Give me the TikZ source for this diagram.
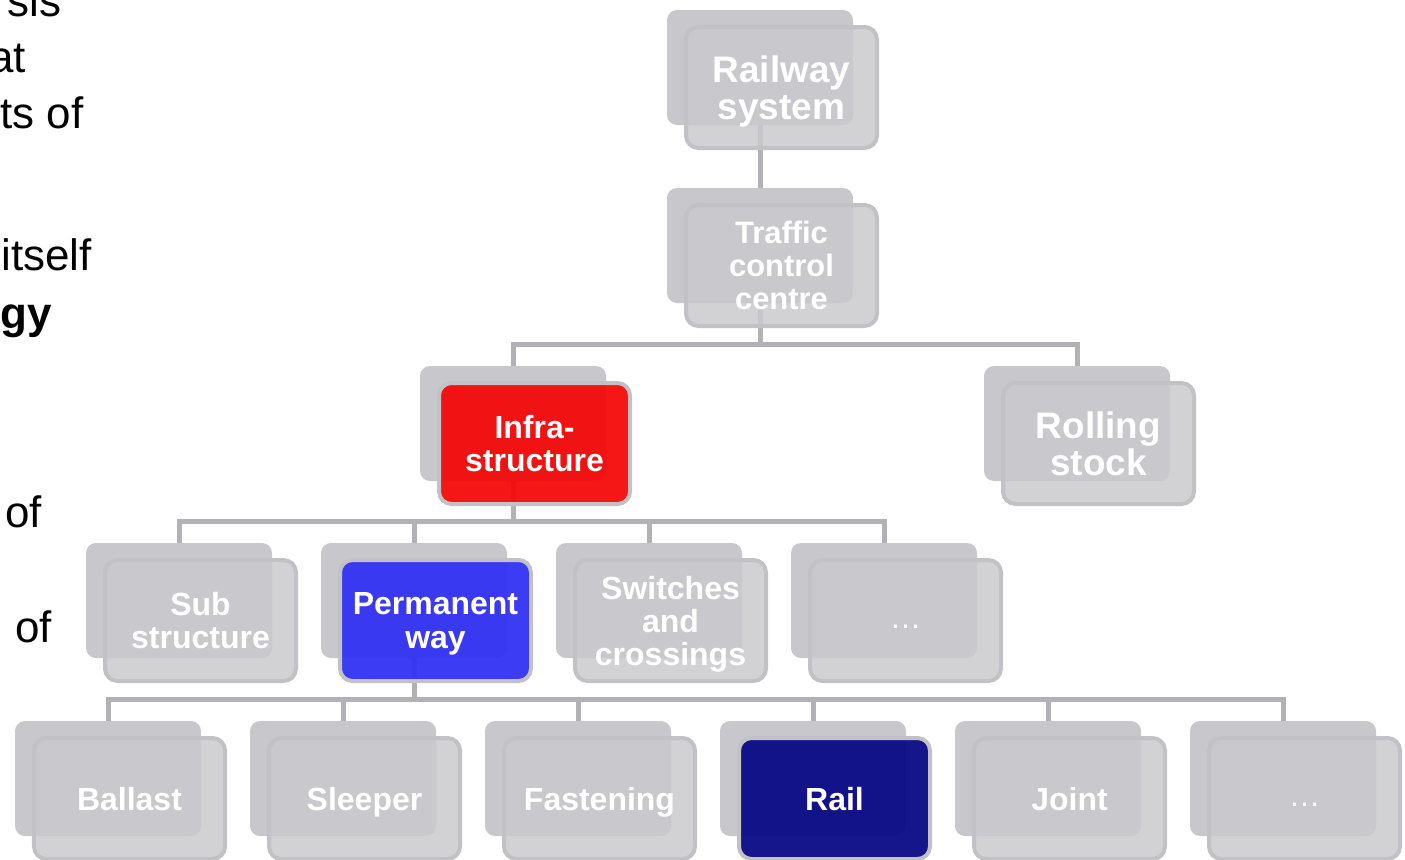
\documentclass[tikz,border=0pt]{standalone}
\usepackage{fontspec}
\setmainfont{Liberation Sans}
\usetikzlibrary{backgrounds}

\definecolor{backgray}{RGB}{200,200,204}
\definecolor{cardgray}{RGB}{202,202,206}
\definecolor{cardline}{RGB}{194,194,198}
\definecolor{linkgray}{RGB}{178,178,182}
\definecolor{infrared}{RGB}{244,10,10}
\definecolor{permblue}{RGB}{50,50,244}
\definecolor{raildark}{RGB}{10,10,134}

\begin{document}
\begin{tikzpicture} [node distance=4.7cm,
	back/.style={rectangle, rounded corners=0.2cm, fill=backgray, minimum width=3.72cm, minimum height=2.3cm, inner sep=0pt},
	card/.style={rectangle, rounded corners=0.25cm, draw=cardline, line width=0.08cm, fill=cardgray, fill opacity=0.85, text opacity=1, text=white, minimum width=3.82cm, minimum height=2.42cm, inner sep=0pt, text depth=0pt, align=center, xshift=0.43cm, yshift=-0.4cm, font=\bfseries\fontsize{18.2}{18.8}\selectfont},
	bigcard/.style={card, font=\bfseries\fontsize{21}{21}\selectfont},
	hotcard/.style={card, fill opacity=0.95},
	dotcard/.style={card, text height=0.3cm, font=\fontsize{18.2}{18.8}\selectfont},
	link/.style={draw=linkgray, line width=0.1cm},
	prose/.style={anchor=base east, inner sep=0pt, font=\fontsize{25}{30}\selectfont}]

	\useasboundingbox (0,0) rectangle (28.1,-17.2);
	\clip (0,0) rectangle (28.1,-17.2);

	% slide text cut at the left
	\node [prose] (txt_1) at (1.24,-0.32) {sis};
	\node [prose] (txt_2) at (0.52,-1.44) {at};
	\node [prose] (txt_3) at (1.68,-2.56) {ts of};
	\node [prose] (txt_4) at (1.84,-5.4) {itself};
	\node [prose, font=\bfseries\fontsize{25}{30}\selectfont] (txt_5) at (1.04,-6.56) {gy};
	\node [prose] (txt_6) at (0.84,-10.54) {of};
	\node [prose] (txt_7) at (1.04,-12.84) {of};

	% top of the tree
	\node [back] (railway_b) at (15.2,-1.35) {};
	\node [bigcard] (railway) at (railway_b) {Railway\\system};
	\node [back, below of=railway_b, node distance=3.56cm] (traffic_b) {};
	\node [card, font=\bfseries\fontsize{17.6}{18.8}\selectfont] (traffic) at (traffic_b) {Traffic\\control\\centre};

	% second level
	\node [back] (infra_b) at (10.26,-8.47) {};
	\node [hotcard, fill=infrared] (infra) at (infra_b) {Infra-\\structure};
	\node [back, right of=infra_b, node distance=11.28cm] (rolling_b) {};
	\node [bigcard] (rolling) at (rolling_b) {Rolling\\stock};

	% third level
	\node [back] (sub_b) at (3.58,-12.01) {};
	\node [card] (sub) at (sub_b) {Sub\\structure};
	\node [back, right of=sub_b] (perm_b) {};
	\node [hotcard, fill=permblue] (perm) at (perm_b) {Permanent\\way};
	\node [back, right of=perm_b] (switches_b) {};
	\node [card] (switches) at (switches_b) {Switches\\and\\crossings};
	\node [back, right of=switches_b] (more_1_b) {};
	\node [dotcard] (more_1) at (more_1_b) {…};

	% fourth level
	\node [back] (ballast_b) at (2.16,-15.57) {};
	\node [card] (ballast) at (ballast_b) {Ballast};
	\node [back, right of=ballast_b] (sleeper_b) {};
	\node [card] (sleeper) at (sleeper_b) {Sleeper};
	\node [back, right of=sleeper_b] (fastening_b) {};
	\node [card] (fastening) at (fastening_b) {Fastening};
	\node [back, right of=fastening_b] (rail_b) {};
	\node [hotcard, fill=raildark] (rail) at (rail_b) {Rail};
	\node [back, right of=rail_b] (joint_b) {};
	\node [card] (joint) at (joint_b) {Joint};
	\node [back, right of=joint_b] (more_2_b) {};
	\node [dotcard] (more_2) at (more_2_b) {…};

	% draw edges
	\begin{scope}[on background layer]
	\draw [link] (railway_b) -- (traffic_b);
	\draw [link] (traffic_b) |- ([yshift=0.42cm]infra_b.north) -- (infra_b);
	\draw [link] (traffic_b) |- ([yshift=0.42cm]rolling_b.north) -- (rolling_b);
	\draw [link] (infra_b) |- ([yshift=0.42cm]sub_b.north) -- (sub_b);
	\draw [link] (infra_b) |- ([yshift=0.42cm]perm_b.north) -- (perm_b);
	\draw [link] (infra_b) |- ([yshift=0.42cm]switches_b.north) -- (switches_b);
	\draw [link] (infra_b) |- ([yshift=0.42cm]more_1_b.north) -- (more_1_b);
	\draw [link] (perm_b) |- ([yshift=0.42cm]ballast_b.north) -- (ballast_b);
	\draw [link] (perm_b) |- ([yshift=0.42cm]sleeper_b.north) -- (sleeper_b);
	\draw [link] (perm_b) |- ([yshift=0.42cm]fastening_b.north) -- (fastening_b);
	\draw [link] (perm_b) |- ([yshift=0.42cm]rail_b.north) -- (rail_b);
	\draw [link] (perm_b) |- ([yshift=0.42cm]joint_b.north) -- (joint_b);
	\draw [link] (perm_b) |- ([yshift=0.42cm]more_2_b.north) -- (more_2_b);
	\end{scope}
\end{tikzpicture}
\end{document}
